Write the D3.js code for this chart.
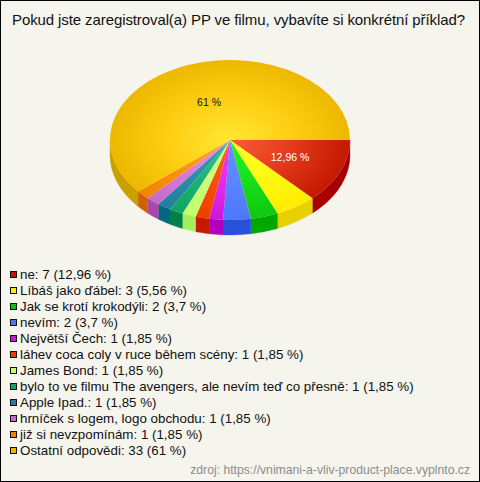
<!DOCTYPE html>
<html><head><meta charset="utf-8">
<script src="https://cdn.jsdelivr.net/npm/d3@7/dist/d3.min.js"></script>
<style>html,body{margin:0;padding:0;background:#f5f5ee}svg{display:block}text{font-family:"Liberation Sans",Arial,sans-serif}</style>
</head><body><svg id="c" width="480" height="482"></svg>
<script>
const titleText = "Pokud jste zaregistroval(a) PP ve filmu, vybavíte si konkrétní příklad?";
const sourceText = "zdroj: https://vnimani-a-vliv-product-place.vyplnto.cz";
const categories = ["ne","Líbáš jako ďábel","Jak se krotí krokodýli","nevím","Největší Čech","láhev coca coly v ruce během scény","James Bond","bylo to ve filmu The avengers, ale nevím teď co přesně","Apple Ipad.","hrníček s logem, logo obchodu","již si nevzpomínám","Ostatní odpovědi"];
const counts = [7,3,2,2,1,1,1,1,1,1,1,33];
const percents = ["12,96","5,56","3,7","3,7","1,85","1,85","1,85","1,85","1,85","1,85","1,85","61"];
const innerColors = ["#fa5c36","#ffff28","#28f428","#6890ff","#f038f8","#ff5c20","#d4ff88","#28c884","#3498b4","#e890e8","#ffa828","#ffe832"];
const midColors   = ["#e43c1c","#fffa14","#18e018","#5c84ff","#e42cec","#f85010","#ccff7c","#1cb474","#2c90a8","#d87cd8","#fc9410","#ffcf14"];
const outerColors = ["#c41800","#ffec00","#10c810","#4c78f8","#cc18dc","#ec4000","#c0ff6c","#10a464","#207f9c","#c46ccc","#f28400","#ecb800"];
const sideColors  = ["#a80000","#e6d000","#00a800","#2850d8","#b000c0","#c81800","#a4f05a","#008048","#006880","#a848a8","#d06000","#c8a000"];
const swatchColors= ["#c41800","#ffe818","#10c010","#4c78f8","#c818d8","#e84000","#c4ff70","#10a464","#207f9c","#c46ccc","#f08000","#ecb400"];
const labelled = {0:"#ffffff",11:"#111111"};

const W=480,H=482,cx=230,cy=140,rx=120,ry=80,depth=15;
const svg=d3.select("#c");
svg.append("rect").attr("x",.5).attr("y",.5).attr("width",W-1).attr("height",H-1).attr("fill","#f5f5ee").attr("stroke","#000");
svg.append("text").attr("x",12).attr("y",25).attr("font-size",15).attr("textLength",453).attr("lengthAdjust","spacing").attr("fill","#111").text(titleText);

const pie=d3.pie().sort(null).startAngle(Math.PI/2).endAngle(Math.PI*2.5);
const arcs=pie(counts);
const arc=d3.arc().innerRadius(0).outerRadius(rx);
const defs=svg.append("defs");
arcs.forEach((a,i)=>{
  const g=defs.append("radialGradient").attr("id","g"+i).attr("gradientUnits","userSpaceOnUse").attr("cx",0).attr("cy",0).attr("r",rx);
  g.append("stop").attr("offset",0).attr("stop-color",innerColors[i]);
  g.append("stop").attr("offset",.5).attr("stop-color",midColors[i]);
  g.append("stop").attr("offset",1).attr("stop-color",outerColors[i]);
});
// sides: visible where the rim faces front (d3 angle between PI/2 and 3PI/2)
const px=t=>cx+rx*Math.sin(t), py=t=>cy-ry*Math.cos(t);
const sides=svg.append("g");
arcs.forEach((a,i)=>{
  const s=Math.max(a.startAngle,Math.PI/2), e=Math.min(a.endAngle,Math.PI*1.5);
  if(e<=s) return;
  const p=d3.path();
  const n=Math.max(2,Math.ceil((e-s)*40));
  const pts=d3.range(n+1).map(k=>s+(e-s)*k/n);
  p.moveTo(px(pts[0]),py(pts[0]));
  pts.forEach(t=>p.lineTo(px(t),py(t)));
  pts.slice().reverse().forEach(t=>p.lineTo(px(t),py(t)+depth));
  p.closePath();
  sides.append("path").attr("d",p.toString()).attr("fill",sideColors[i]).attr("stroke",sideColors[i]).attr("stroke-width",.3);
});
const face=svg.append("g").attr("transform",`translate(${cx},${cy}) scale(1,${ry/rx})`);
face.selectAll("path").data(arcs).join("path").attr("d",arc).attr("fill",(d,i)=>`url(#g${i})`);
// labels
arcs.forEach((a,i)=>{
  if(!(i in labelled)) return;
  const m=(a.startAngle+a.endAngle)/2;
  const f=i===0?.545:.51;
  svg.append("text").attr("x",cx+rx*f*Math.sin(m)).attr("y",cy-ry*f*Math.cos(m)+4)
    .attr("text-anchor","middle").attr("font-size",10.5).attr("fill",labelled[i]).text(percents[i]+" %");
});
// legend
const y=d3.scalePoint().domain(d3.range(categories.length)).range([279,455]);
const leg=svg.append("g");
categories.forEach((c,i)=>{
  leg.append("rect").attr("x",10.5).attr("y",y(i)-7.5).attr("width",6).attr("height",6).attr("fill",swatchColors[i]).attr("stroke","#111");
  leg.append("text").attr("x",20).attr("y",y(i)).attr("font-size",13.35).attr("fill","#111").text(`${c}: ${counts[i]} (${percents[i]} %)`);
});
svg.append("text").attr("x",470).attr("y",474).attr("text-anchor","end").attr("font-size",12.2).attr("fill","#8c8c8c").text(sourceText);
</script></body></html>
